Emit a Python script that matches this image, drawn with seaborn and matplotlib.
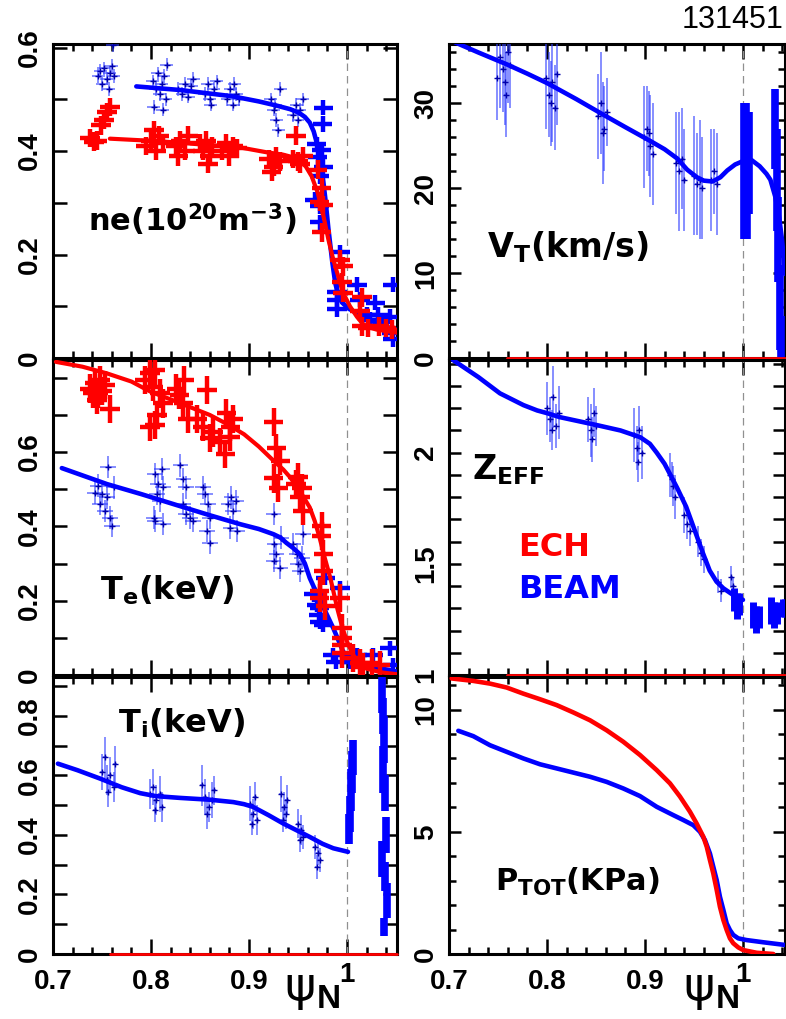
import matplotlib
matplotlib.use("Agg")
import matplotlib.pyplot as plt
import matplotlib.transforms as mtransforms
import seaborn as sns
from matplotlib.ticker import MultipleLocator, FixedLocator, FixedFormatter

# ---------------- data ----------------
# ne panel
NE_B_X = [0.746,0.748,0.750,0.752,0.755,0.757,0.758,0.760,0.762,0.761,
          0.802,0.805,0.807,0.809,0.811,0.813,0.815,0.803,0.812,0.816,
          0.828,0.832,0.835,0.838,0.841,0.843,
          0.855,0.858,0.861,0.864,0.867,0.860,
          0.878,0.881,0.884,0.887,0.890,0.885,
          0.922,0.925,0.928,0.930,0.932,0.927,
          0.945,0.948,0.950,0.952,0.955]
NE_B_Y = [0.545,0.555,0.530,0.560,0.540,0.520,0.550,0.565,0.545,0.605,
          0.535,0.520,0.550,0.510,0.530,0.545,0.500,0.485,0.480,0.567,
          0.520,0.510,0.530,0.505,0.525,0.540,
          0.510,0.530,0.490,0.520,0.535,0.500,
          0.500,0.520,0.490,0.510,0.500,0.530,
          0.500,0.480,0.460,0.440,0.520,0.490,
          0.470,0.490,0.460,0.480,0.500]
NE_BE_X = [0.976,0.975,0.969,0.974,0.970,0.976,0.972,0.967,0.972,0.972,0.993,0.990,0.990,
           0.990,1.010,1.013,1.029,1.032,1.023,1.047,1.044,1.046,1.047,1.037,1.020]
NE_BE_Y = [0.484,0.452,0.413,0.403,0.389,0.370,0.351,0.306,0.293,0.262,0.204,0.128,0.113,
           0.094,0.142,0.113,0.107,0.084,0.074,0.142,0.080,0.049,0.036,0.070,0.084]
NE_R_X = [0.738,0.742,0.745,0.749,0.752,0.755,0.758,
          0.795,0.800,0.805,0.808,0.812,0.803,
          0.825,0.830,0.835,0.838,0.828,
          0.850,0.853,0.856,0.860,0.858,0.862,
          0.872,0.877,0.880,0.884,0.888,
          0.920,0.925,0.928,0.932,0.923,
          0.945,0.950,0.955,0.948,0.952,
          0.970,0.974,0.972,0.976,0.974,0.993,0.996,0.995,0.996,1.015,1.013,1.015,1.021,1.033,1.040,1.046]
NE_R_Y = [0.425,0.418,0.420,0.450,0.460,0.475,0.485,
          0.410,0.420,0.400,0.430,0.415,0.440,
          0.410,0.420,0.400,0.430,0.390,
          0.415,0.400,0.420,0.390,0.375,0.410,
          0.400,0.415,0.390,0.410,0.405,
          0.385,0.370,0.390,0.380,0.360,
          0.385,0.380,0.390,0.430,0.375,
          0.364,0.329,0.302,0.295,0.243,0.190,0.177,0.146,0.126,0.117,0.090,0.061,0.058,0.061,0.058,0.055]
NE_FIT_B_X = [0.785,0.830,0.883,0.910,0.928,0.942,0.951,0.957,0.962,0.966,0.970,0.974,0.978,0.981,
              0.985,0.988,0.991,0.995,1.002,1.010,1.020,1.035,1.050]
NE_FIT_B_Y = [0.525,0.518,0.506,0.496,0.488,0.481,0.474,0.466,0.455,0.438,0.410,0.370,0.306,0.250,
              0.185,0.145,0.122,0.107,0.095,0.087,0.076,0.063,0.055]
NE_FIT_R_X = [0.758,0.809,0.850,0.891,0.917,0.935,0.945,0.952,0.958,0.964,0.970,0.976,0.981,0.986,
              0.991,0.996,1.003,1.010,1.016,1.023,1.030,1.051]
NE_FIT_R_Y = [0.424,0.419,0.413,0.407,0.398,0.393,0.388,0.381,0.370,0.351,0.320,0.274,0.229,0.190,
              0.158,0.126,0.100,0.080,0.066,0.059,0.055,0.049]

# Te panel
TE_R_X = [0.738,0.741,0.743,0.745,0.746,0.748,0.750,0.753,0.758,
          0.794,0.799,0.802,0.804,0.799,0.806,0.809,0.812,0.804,
          0.826,0.829,0.834,0.833,0.838,0.857,0.847,0.853,0.860,0.863,
          0.870,0.877,0.881,0.876,0.881,0.884,
          0.925,0.928,0.925,0.932,0.930,
          0.950,0.954,0.952,0.955,0.948,
          0.974,0.974,0.976,0.976,0.972,0.972,0.993,0.978,0.995,0.995,0.995,0.995,1.013,1.016,1.025,1.034,1.006]
TE_R_Y = [0.771,0.758,0.785,0.740,0.758,0.794,0.765,0.780,0.717,
          0.794,0.812,0.776,0.673,0.668,0.700,0.758,0.731,0.820,
          0.771,0.753,0.794,0.731,0.690,0.767,0.690,0.668,0.637,0.653,
          0.627,0.704,0.668,0.595,0.641,0.690,
          0.681,0.610,0.529,0.577,0.504,
          0.532,0.504,0.478,0.442,0.515,
          0.401,0.374,0.325,0.280,0.225,0.207,0.207,0.185,0.126,0.099,0.081,0.058,0.031,0.022,0.031,0.027,0.045]
TE_B_X = [0.746,0.750,0.748,0.755,0.753,0.758,0.756,0.762,0.760,0.743,
          0.804,0.807,0.806,0.809,0.804,0.812,0.811,0.812,0.803,
          0.830,0.833,0.836,0.833,0.840,0.843,0.836,
          0.855,0.858,0.857,0.860,0.853,0.860,
          0.879,0.882,0.884,0.887,0.881,0.888,
          0.925,0.926,0.928,0.925,0.933,0.932,
          0.945,0.949,0.950,0.954,0.952,0.955]
TE_B_Y = [0.510,0.487,0.460,0.478,0.442,0.424,0.559,0.505,0.401,0.490,
          0.541,0.514,0.487,0.469,0.415,0.505,0.555,0.406,0.424,
          0.564,0.528,0.505,0.460,0.424,0.415,0.433,
          0.487,0.460,0.388,0.356,0.505,0.424,
          0.460,0.478,0.442,0.469,0.397,0.388,
          0.433,0.352,0.325,0.307,0.370,0.289,
          0.352,0.325,0.298,0.316,0.280,0.380]
TE_BE_X = [0.966,0.969,0.972,0.971,0.972,0.976,0.978,0.993,0.986,0.989,1.010,1.027,1.044,1.047,1.003]
TE_BE_Y = [0.217,0.189,0.180,0.162,0.144,0.135,0.261,0.234,0.054,0.036,0.054,0.054,0.072,0.027,0.036]
TE_FIT_R_X = [0.703,0.730,0.755,0.780,0.800,0.820,0.840,0.860,0.878,0.895,0.910,0.925,0.935,0.942,
              0.952,0.962,0.967,0.972,0.977,0.983,0.990,0.995,1.000,1.006,1.013,1.020,1.035,1.051]
TE_FIT_R_Y = [0.843,0.830,0.812,0.790,0.762,0.742,0.721,0.700,0.675,0.648,0.615,0.577,0.553,0.532,
              0.495,0.451,0.415,0.370,0.318,0.261,0.180,0.130,0.090,0.055,0.030,0.017,0.007,0.002]
TE_FIT_B_X = [0.709,0.755,0.790,0.823,0.860,0.891,0.910,0.925,0.932,0.938,0.945,0.952,0.957,0.962,
              0.967,0.972,0.979,0.986,0.991,0.996,1.003,1.010,1.030,1.051]
TE_FIT_B_Y = [0.557,0.514,0.487,0.460,0.430,0.406,0.393,0.379,0.370,0.356,0.342,0.325,0.300,0.261,
              0.232,0.207,0.165,0.126,0.095,0.063,0.045,0.036,0.020,0.009]

# Ti panel
TI_X = [0.750,0.753,0.755,0.758,0.762,0.763,0.756, 0.799,0.802,0.805,0.809,0.811,0.804,
        0.852,0.855,0.859,0.862,0.857,0.864, 0.901,0.904,0.908,0.906,0.903,
        0.933,0.936,0.938,0.935,0.939, 0.950,0.953,0.955,0.952, 0.967,0.970,0.972,0.969]
TI_Y = [0.611,0.660,0.583,0.600,0.560,0.638,0.543, 0.538,0.560,0.516,0.538,0.493,0.482,
        0.566,0.527,0.493,0.516,0.471,0.549, 0.505,0.471,0.449,0.527,0.438,
        0.538,0.493,0.471,0.449,0.516, 0.438,0.416,0.393,0.382, 0.360,0.338,0.315,0.293]
TI_E = [0.06,0.07,0.05,0.06,0.05,0.06,0.05, 0.05,0.06,0.05,0.06,0.05,0.04,
        0.07,0.06,0.05,0.06,0.05,0.05, 0.06,0.05,0.05,0.05,0.04,
        0.06,0.05,0.05,0.04,0.05, 0.05,0.05,0.04,0.04, 0.04,0.04,0.04,0.04]
TI_EDGE_X = [1.002,1.003,1.004,1.005,1.006, 1.036,1.037,1.038,1.037,1.039,1.040,1.036,1.039,1.041,1.038]
TI_EDGE_Y = [0.42,0.47,0.55,0.61,0.66, 0.88,0.80,0.72,0.62,0.54,0.40,0.32,0.26,0.18,0.09]
TI_EDGE_E = [0.05,0.06,0.07,0.07,0.06, 0.07,0.06,0.08,0.08,0.06,0.06,0.06,0.05,0.06,0.03]
TI_FIT_X = [0.705,0.725,0.748,0.770,0.789,0.805,0.830,0.860,0.884,0.895,0.904,0.920,0.935,0.950,
            0.962,0.975,0.986,1.001]
TI_FIT_Y = [0.639,0.617,0.589,0.560,0.540,0.530,0.524,0.518,0.510,0.503,0.494,0.466,0.438,0.413,
            0.393,0.370,0.355,0.343]
TI_ECH_X = [0.758,1.051]
TI_ECH_Y = [0.0,0.0]

# VT panel
VT_X = [0.749,0.752,0.755,0.758,0.760,0.762,0.757, 0.799,0.802,0.805,0.808,0.810,0.804,
        0.852,0.855,0.858,0.861,0.857, 0.899,0.902,0.905,0.908,0.904,
        0.932,0.935,0.938,0.940, 0.950,0.953,0.956,0.958, 0.967,0.970,0.973]
VT_Y = [33,35.5,34,31,36,34.5,32.5, 33,31,32.5,29.5,33.5,30,
        28.5,30,27,29,26.5, 26,27,25,24,26.5,
        23,22,23.5,21, 21.5,20.5,21,20, 21,22,20.5]
VT_E = [5,6,5,5,6,5,5, 6,5,7,5,6,5, 5,6,5,4,6, 6,5,6,6,5,
        6,7,6,6, 7,6,7,6, 6,5,6]
VT_EDGE_X = [1.001,1.003,1.004,1.006, 1.033,1.035,1.036,1.038,1.039]
VT_EDGE_Y = [22,25,19,23, 27,21,14,6,2]
VT_EDGE_E = [8,5,5,6, 4.7,6,5,5,3]
VT_FIT_X = [0.706,0.730,0.759,0.780,0.800,0.830,0.857,0.880,0.905,0.920,0.933,0.943,0.953,0.960,
            0.969,0.977,0.984,0.992,1.000,1.009,1.017,1.024,1.028,1.033,1.037,1.040,1.043]
VT_FIT_Y = [37.2,36.0,34.6,33.5,32.4,30.5,28.7,27.2,25.6,24.6,23.5,22.2,21.3,20.9,
            20.8,21.3,22.1,22.8,23.2,23.3,22.6,21.7,21.0,19.0,16.5,13.8,9.9]
VT_ECH_X = [0.759,1.043]
VT_ECH_Y = [0.0,0.0]

# ZEFF panel
Z_X = [0.800,0.803,0.806,0.809,0.812,0.805, 0.842,0.845,0.848,0.850,0.846,
       0.889,0.892,0.894,0.897,0.893, 0.926,0.929,0.931,0.928,
       0.940,0.943,0.946, 0.954,0.957,0.960, 0.975,0.978, 0.988,0.990]
Z_Y = [2.20,2.15,2.25,2.12,2.18,2.10, 2.15,2.10,2.18,2.12,2.06,
       2.08,2.02,2.10,2.00,1.96, 1.90,1.85,1.80,1.88,
       1.72,1.68,1.65, 1.60,1.55,1.52, 1.42,1.38, 1.44,1.40]
Z_E = [0.12,0.10,0.14,0.10,0.12,0.09, 0.10,0.12,0.11,0.09,0.10,
       0.12,0.10,0.11,0.12,0.09, 0.10,0.09,0.10,0.08,
       0.08,0.07,0.07, 0.07,0.06,0.06, 0.05,0.05, 0.05,0.04]
Z_EDGE_X = [0.991,0.994,0.996, 1.010,1.013,1.016, 1.029,1.032,1.035, 1.041,1.043]
Z_EDGE_Y = [1.34,1.31,1.32, 1.27,1.25,1.26, 1.29,1.27,1.28, 1.30,1.30]
Z_EDGE_E = [0.05,0.06,0.05, 0.06,0.06,0.05, 0.06,0.06,0.05, 0.04,0.04]
Z_FIT_X = [0.704,0.730,0.752,0.776,0.790,0.800,0.813,0.851,0.875,0.895,0.905,0.912,0.920,0.925,
           0.933,0.942,0.950,0.959,0.966,0.973,0.980,0.990,1.000]
Z_FIT_Y = [2.417,2.340,2.267,2.214,2.190,2.178,2.160,2.124,2.100,2.070,2.040,2.000,1.950,1.908,
           1.840,1.757,1.660,1.550,1.470,1.420,1.390,1.360,1.338]
Z_ECH_X = [0.759,1.043]
Z_ECH_Y = [1.0,1.0]

# PTOT panel
P_R_X = [0.7027,0.7248,0.7418,0.7588,0.7758,0.7929,0.8099,0.8269,0.8439,0.8609,0.8779,0.8949,
         0.9120,0.9255,0.9357,0.9459,0.9527,0.9595,0.9630,0.9663,0.9697,0.9732,0.9765,0.9800,
         0.9834,0.9867,0.9901,0.9952,1.0003,1.0140,1.0310]
P_R_Y = [11.27,11.17,11.06,10.90,10.65,10.42,10.18,9.88,9.56,9.15,8.68,8.14,
         7.52,6.98,6.44,5.82,5.34,4.80,4.39,3.84,3.30,2.62,1.93,1.39,
         0.98,0.64,0.44,0.27,0.16,0.05,0.0]
P_B_X = [0.7095,0.7248,0.7418,0.7588,0.7758,0.7929,0.8099,0.8269,0.8439,0.8609,0.8779,0.8949,
         0.9120,0.9289,0.9391,0.9493,0.9561,0.9612,0.9663,0.9697,0.9732,0.9765,0.9800,0.9834,
         0.9867,0.9901,0.9952,1.0037,1.0207,1.0429]
P_B_Y = [9.13,8.91,8.54,8.27,8.00,7.76,7.59,7.42,7.25,7.04,6.77,6.46,
         6.02,5.68,5.48,5.27,5.00,4.66,4.11,3.57,3.02,2.34,1.80,1.25,
         0.98,0.78,0.64,0.57,0.48,0.37]

X_TICKS = [0.7, 0.8, 0.9, 1.0]
X_TICK_LABELS = ["0.7", "0.8", "0.9", "1"]

# ---------------- style ----------------
sns.set_theme(style="ticks")
plt.rcParams["font.family"] = ["Liberation Sans", "DejaVu Sans"]
plt.rcParams["font.weight"] = "bold"
plt.rcParams["mathtext.fontset"] = "dejavusans"
plt.rcParams["text.color"] = "black"
plt.rcParams["axes.labelcolor"] = "black"
plt.rcParams["xtick.color"] = "black"
plt.rcParams["ytick.color"] = "black"

BLUE = "#0000ff"
RED = "#ff0000"
BLUE_LIGHT = (0.2, 0.25, 1.0, 0.75)

W, H = 786, 1019
fig = plt.figure(figsize=(W / 100, H / 100), dpi=100)
fig.patch.set_facecolor("white")


def px_axes(x0, y0, x1, y1):
    return fig.add_axes([x0 / W, 1 - y1 / H, (x1 - x0) / W, (y1 - y0) / H])


ax_ne = px_axes(53, 44, 397, 358)
ax_te = px_axes(53, 360, 397, 675)
ax_ti = px_axes(53, 677, 397, 954)
ax_vt = px_axes(449, 44, 785, 358)
ax_z = px_axes(449, 360, 785, 675)
ax_p = px_axes(449, 677, 785, 954)


def style(ax, xmax, ylim, ymaj, ylab, ymin, show_x, ylen_maj, ylen_min):
    ax.set_facecolor("white")
    ax.set_xlim(0.7, xmax)
    ax.set_ylim(*ylim)
    for s in ax.spines.values():
        s.set_visible(True)
        s.set_linewidth(2.2)
        s.set_color("black")
        s.set_zorder(2.5)
    ax.xaxis.set_major_locator(FixedLocator(X_TICKS))
    ax.xaxis.set_major_formatter(FixedFormatter(X_TICK_LABELS if show_x else [""] * 4))
    ax.xaxis.set_minor_locator(MultipleLocator(0.02))
    ax.yaxis.set_major_locator(FixedLocator(ymaj))
    ax.yaxis.set_major_formatter(FixedFormatter(ylab))
    ax.yaxis.set_minor_locator(MultipleLocator(ymin))
    ax.tick_params(axis="both", which="both", direction="in", top=True, right=True,
                   width=1.8, color="black", labelsize=20, labelcolor="black")
    ax.tick_params(axis="x", which="major", length=10.8, pad=11)
    ax.tick_params(axis="x", which="minor", length=5)
    ax.tick_params(axis="y", which="major", length=ylen_maj, pad=7, labelrotation=90)
    ax.tick_params(axis="y", which="minor", length=ylen_min)
    for lbl in ax.get_yticklabels():
        lbl.set_va("center")
    if show_x:
        # the "1" label sits a little higher in the reference
        lbl = ax.get_xticklabels()[-1]
        lbl.set_transform(lbl.get_transform() +
                          mtransforms.ScaledTranslation(0, 7 / 100, fig.dpi_scale_trans))
    ax.axvline(1.0, color="#909090", lw=0.9, ls=(0, (6, 4)), zorder=1)
    ax.set_xlabel("")
    ax.set_ylabel("")
    ax.grid(False)


def crosses(ax, x, y, xe, ye, color, lw, z):
    ax.errorbar(x, y, xerr=xe, yerr=ye, fmt="none", ecolor=color,
                elinewidth=lw, capsize=0, zorder=z)


def fit(ax, x, y, color, lw=3.3, z=5, clip=True):
    sns.lineplot(x=x, y=y, ax=ax, color=color, linewidth=lw, sort=False,
                 estimator=None, legend=False, zorder=z, clip_on=clip)


def centers(ax, x, y):
    sns.scatterplot(x=x, y=y, ax=ax, marker="+", s=14, color="#0000aa",
                    linewidth=1.0, zorder=3.5, legend=False)


# ---- ne ----
ax = ax_ne
crosses(ax, NE_B_X, NE_B_Y, 0.0066, 0.013, BLUE_LIGHT, 1.1, 3)
centers(ax, NE_B_X, NE_B_Y)
fit(ax, NE_FIT_B_X, NE_FIT_B_Y, BLUE, z=4)
crosses(ax, NE_BE_X, NE_BE_Y, 0.010, 0.015, BLUE, 3.2, 4.5)
crosses(ax, NE_R_X, NE_R_Y, 0.010, 0.018, RED, 3.2, 5)
fit(ax, NE_FIT_R_X, NE_FIT_R_Y, RED, lw=3.0, z=6)
style(ax, 1.051, (0, 0.607), [0, 0.2, 0.4, 0.6], ["0", "0.2", "0.4", "0.6"], 0.1, False, 10, 10)

# ---- Te ----
ax = ax_te
crosses(ax, TE_B_X, TE_B_Y, 0.008, 0.03, BLUE_LIGHT, 1.1, 3)
centers(ax, TE_B_X, TE_B_Y)
fit(ax, TE_FIT_B_X, TE_FIT_B_Y, BLUE, z=4)
crosses(ax, TE_BE_X, TE_BE_Y, 0.010, 0.02, BLUE, 3.2, 4.5)
crosses(ax, TE_R_X, TE_R_Y, 0.010, 0.038, RED, 3.2, 5)
fit(ax, TE_FIT_R_X, TE_FIT_R_Y, RED, lw=3.0, z=6)
style(ax, 1.051, (0, 0.848), [0, 0.2, 0.4, 0.6], ["0", "0.2", "0.4", "0.6"], 0.1, False, 10, 10)

# ---- Ti ----
ax = ax_ti
crosses(ax, TI_X, TI_Y, 0.002, TI_E, BLUE_LIGHT, 1.1, 3)
centers(ax, TI_X, TI_Y)
crosses(ax, TI_EDGE_X, TI_EDGE_Y, 0.0015, TI_EDGE_E, BLUE, 5.5, 4)
fit(ax, TI_FIT_X, TI_FIT_Y, BLUE, z=4.5)
fit(ax, TI_ECH_X, TI_ECH_Y, RED, lw=2.0, z=6, clip=False)
style(ax, 1.051, (0, 0.93), [0, 0.2, 0.4, 0.6, 0.8], ["0", "0.2", "0.4", "0.6", "0.8"], 0.1, True, 10, 10)

# ---- VT ----
ax = ax_vt
crosses(ax, VT_X, VT_Y, 0.0015, VT_E, BLUE_LIGHT, 1.1, 3)
centers(ax, VT_X, VT_Y)
crosses(ax, VT_EDGE_X, VT_EDGE_Y, 0.0015, VT_EDGE_E, BLUE, 5.5, 4)
fit(ax, VT_FIT_X, VT_FIT_Y, BLUE, z=4.5)
fit(ax, VT_ECH_X, VT_ECH_Y, RED, lw=2.0, z=6, clip=False)
style(ax, 1.0429, (0, 37), [0, 10, 20, 30], ["0", "10", "20", "30"], 2, False, 8.6, 5)

# ---- ZEFF ----
ax = ax_z
crosses(ax, Z_X, Z_Y, 0.0015, Z_E, BLUE_LIGHT, 1.1, 3)
centers(ax, Z_X, Z_Y)
crosses(ax, Z_EDGE_X, Z_EDGE_Y, 0.0015, Z_EDGE_E, BLUE, 5.0, 4)
fit(ax, Z_FIT_X, Z_FIT_Y, BLUE, z=4.5)
fit(ax, Z_ECH_X, Z_ECH_Y, RED, lw=2.0, z=6, clip=False)
style(ax, 1.0429, (1, 2.417), [1, 1.5, 2], ["1", "1.5", "2"], 0.1, False, 8.6, 8.6)

# ---- PTOT ----
ax = ax_p
fit(ax, P_B_X, P_B_Y, BLUE, z=4)
fit(ax, P_R_X, P_R_Y, RED, z=5)
style(ax, 1.0429, (0, 11.33), [0, 5, 10], ["0", "5", "10"], 1, True, 8.6, 5)

# ---------------- text ----------------
def ftext(x, y, s, **kw):
    fig.text(x / W, 1 - y / H, s, **kw)

ftext(88, 220, r"$\mathbf{ne(10^{20}m^{-3})}$", fontsize=22, ha="left", va="center")
ftext(100, 590, r"$\mathbf{T_e(keV)}$", fontsize=23, ha="left", va="center")
ftext(118, 723, r"$\mathbf{T_i(keV)}$", fontsize=23, ha="left", va="center")
ftext(487, 247, r"$\mathbf{V_T(km/s)}$", fontsize=24, ha="left", va="center")
ftext(472, 470, r"$\mathbf{Z_{EFF}}$", fontsize=24, ha="left", va="center")
ftext(495, 882, r"$\mathbf{P_{TOT}(KPa)}$", fontsize=22, ha="left", va="center")
ftext(518, 547, "ECH", fontsize=23, color=RED, family="DejaVu Sans", weight="bold", ha="left", va="center")
ftext(518, 590, "BEAM", fontsize=23, color=BLUE, family="DejaVu Sans", weight="bold", ha="left", va="center")
ftext(783, 20, "131451", fontsize=22, weight="normal", ha="right", va="center")
for cx in (300, 699):
    ftext(cx, 987, "\u03c8", fontsize=34, family="DejaVu Sans", weight="normal", ha="center", va="center")
    ftext(cx + 29, 999, "N", fontsize=24, family="Liberation Sans", weight="bold", ha="center", va="center")

fig.savefig("out.png", dpi=100, facecolor="white")
